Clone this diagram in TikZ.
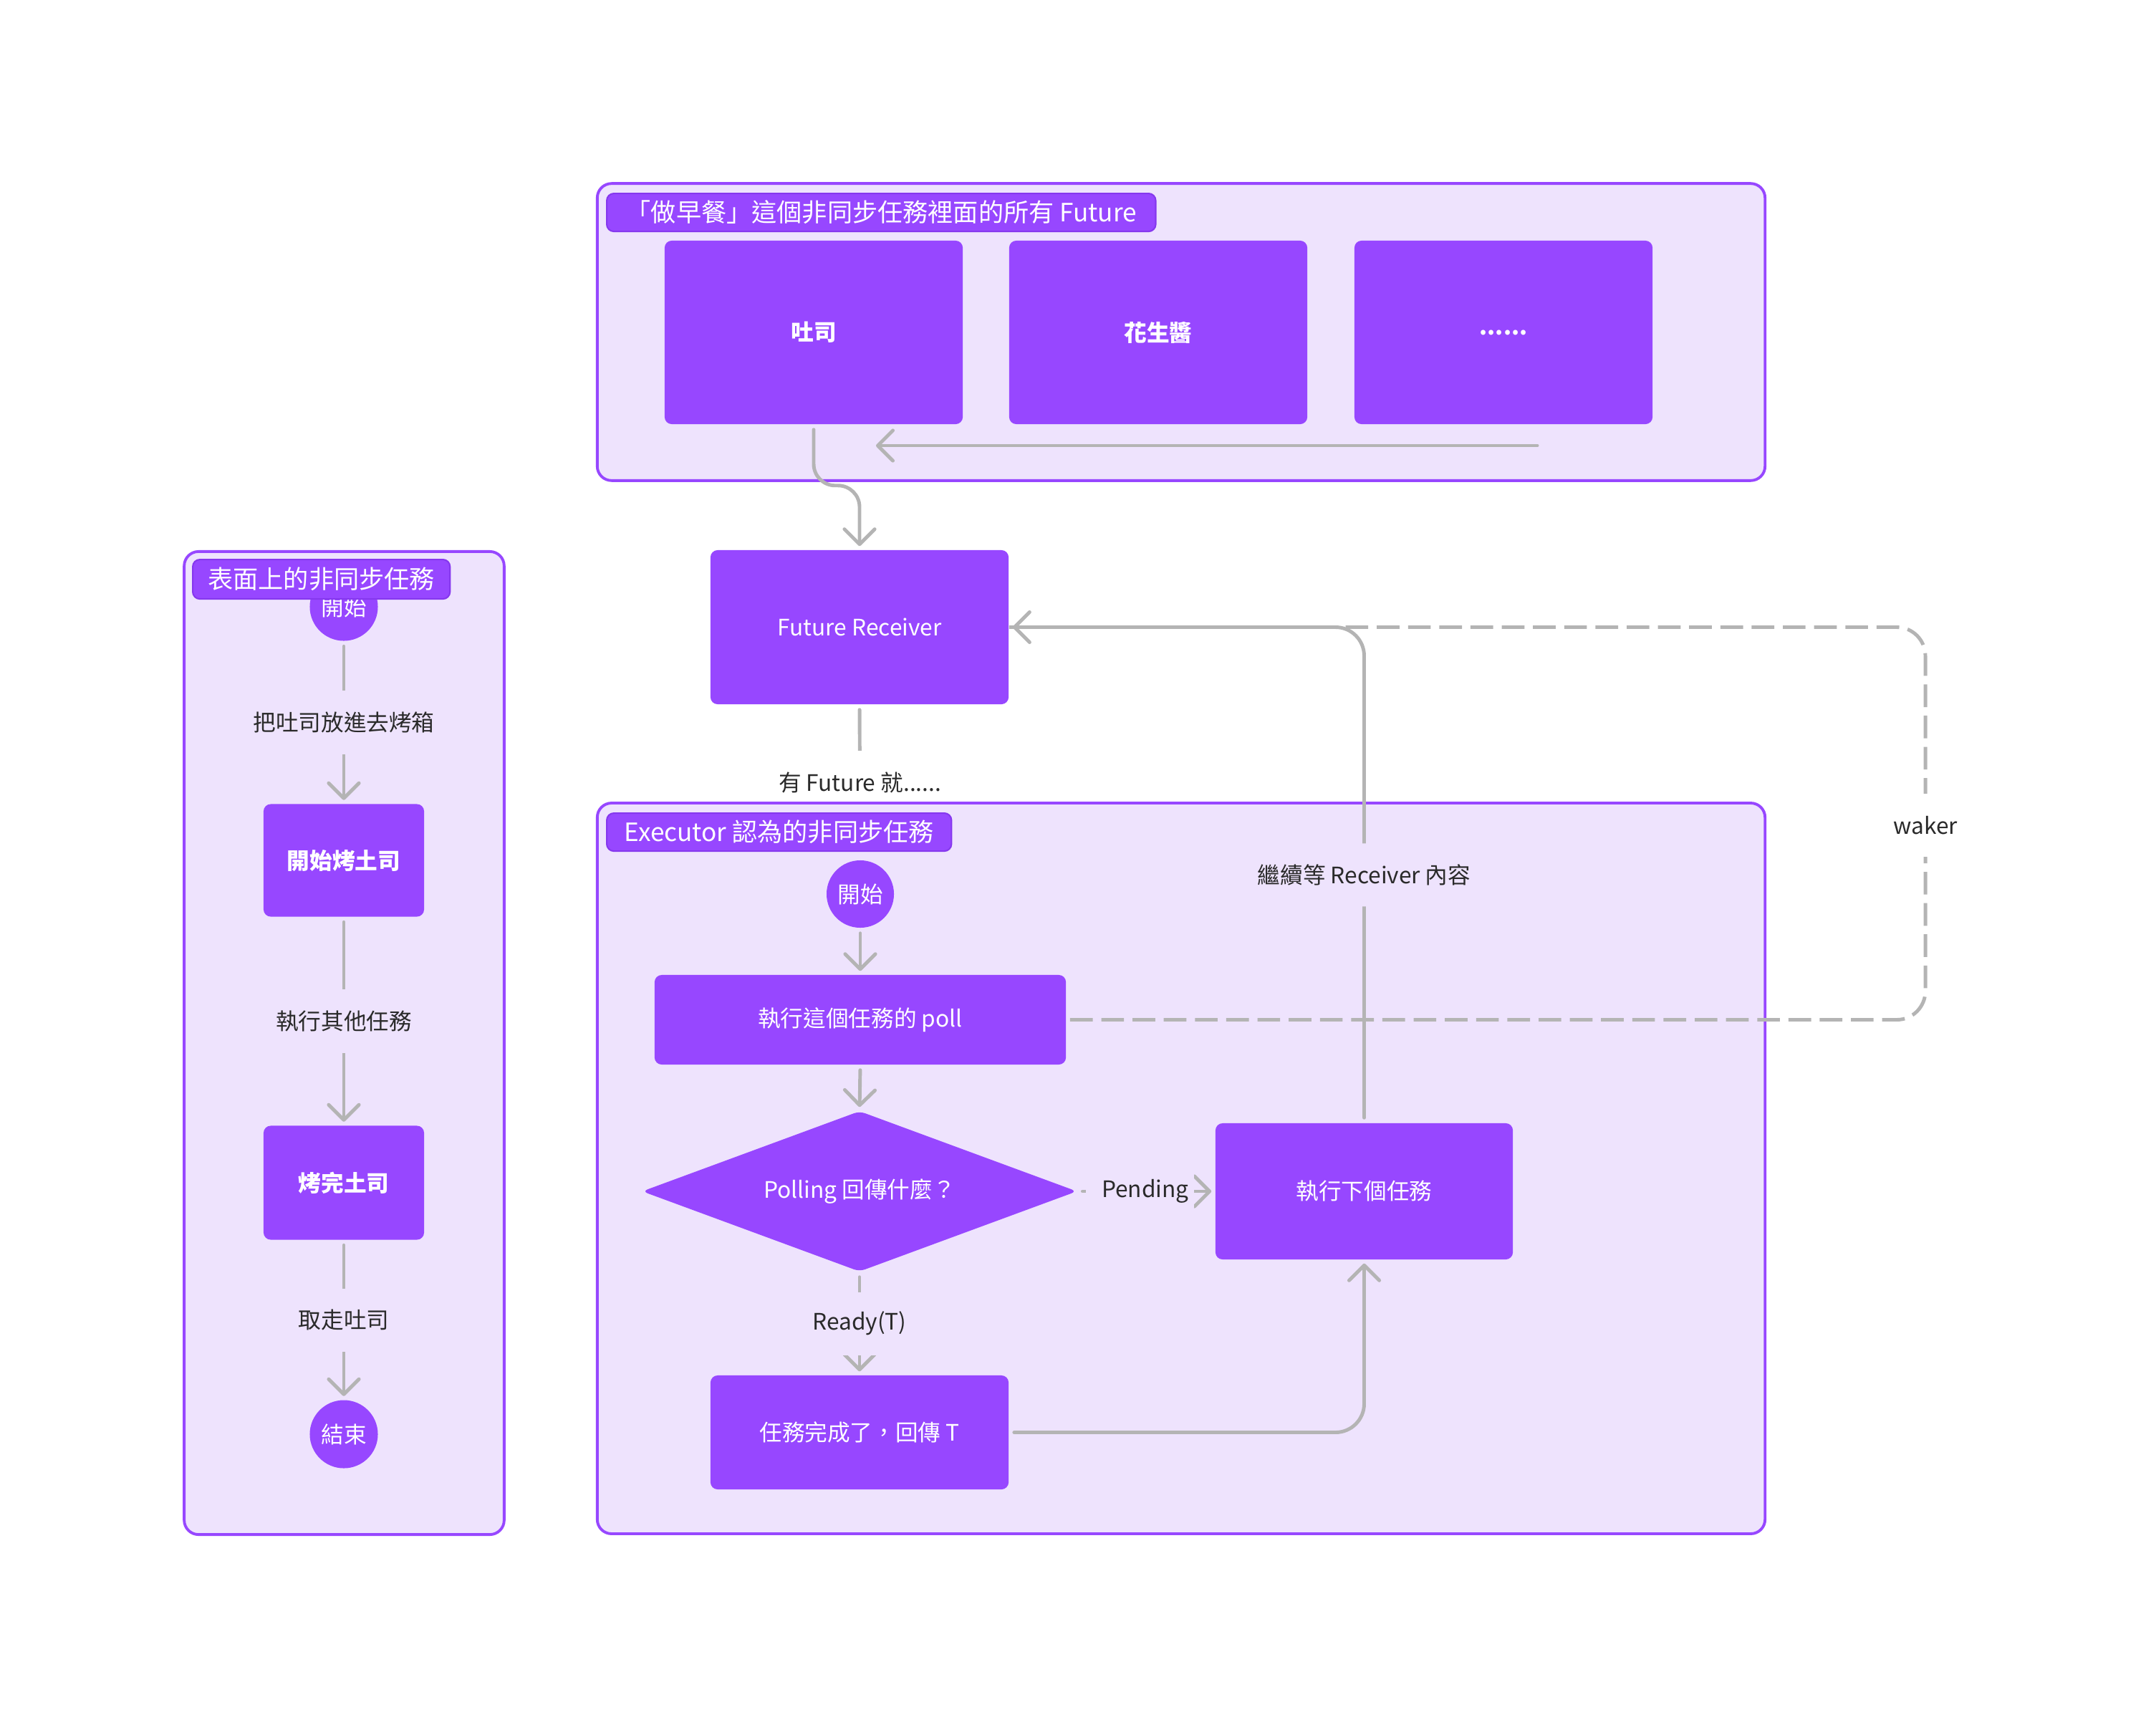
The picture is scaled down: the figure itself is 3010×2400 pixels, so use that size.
\documentclass[tikz,border=0pt]{standalone}
\usepackage{fontspec}
\setmainfont{Noto Sans CJK TC}
\usetikzlibrary{arrows.meta,shapes.geometric}

\pgfdeclarelayer{under}
\pgfdeclarelayer{fills}
\pgfdeclarelayer{edges}
\pgfdeclarelayer{wires}
\pgfdeclarelayer{tabs}
\pgfsetlayers{under,fills,edges,wires,main,tabs}

\definecolor{purp}{HTML}{9747FF}
\definecolor{tabline}{HTML}{8638EE}
\definecolor{grpfill}{HTML}{EEE3FD}
\definecolor{grpline}{HTML}{9747FF}
\definecolor{wirecol}{HTML}{B4B4B4}
\definecolor{ink}{HTML}{2A2A2A}

\tikzset{
  txt/.style={font=\fontsize{9}{11}\selectfont},
  grp/.style={fill=grpfill, rounded corners=0.2cm, inner sep=0pt},
  grpedge/.style={draw=grpline, line width=1.1pt, rounded corners=0.2cm},
  tab/.style={anchor=north west, fill=purp, draw=tabline, line width=0.6pt,
    rounded corners=0.1cm, text=white, font=\fontsize{10}{12}\selectfont,
    minimum height=0.53cm, inner sep=0pt},
  box/.style={fill=purp, rounded corners=0.1cm, text=white, txt, inner sep=0pt},
  boldbox/.style={box, font=\fontsize{9}{11}\selectfont\bfseries},
  term/.style={circle, fill=purp, text=white, txt, inner sep=0pt, minimum size=0.95cm},
  decide/.style={diamond, aspect=2.7, fill=purp, text=white, txt, inner sep=0pt,
    minimum width=6.07cm, minimum height=2.24cm, rounded corners=0.08cm},
  wire/.style={draw=wirecol, line width=1.4pt, line cap=round,
    shorten <=0.07cm, shorten >=0.05cm,
    -{Straight Barb[length=6pt, width=12pt, round]}},
  wakeline/.style={draw=wirecol, line width=1.4pt, dash pattern=on 9pt off 3.4pt,
    shorten <=0.05cm, rounded corners=0.4cm},
  lbl/.style={txt, text=ink, minimum height=0.88cm, inner xsep=0.12cm, inner ysep=0pt},
}

\begin{document}
\begin{tikzpicture}[x=0.01cm, y=-0.01cm]
\useasboundingbox (0,0) rectangle (3010,2400);

% ---------- nodes ----------
% futures of the breakfast task
\node[boldbox, minimum width=4.16cm, minimum height=2.56cm] (toast) at (1136,464) {吐司};
\node[boldbox, minimum width=4.16cm, minimum height=2.56cm] (peanut) at (1617,464) {花生醬};
\node[boldbox, minimum width=4.16cm, minimum height=2.56cm] (more) at (2099,464) {\raisebox{-0.3ex}{......}};
\coordinate (seqA) at (2146,622);
\coordinate (seqB) at (1223,622);

\node[box, minimum width=4.16cm, minimum height=2.15cm] (recv) at (1200,875.5) {Future Receiver};

% the task as it looks on the surface
\node[term] (start1) at (480,847) {開始};
\node[boldbox, minimum width=2.24cm, minimum height=1.57cm] (toastOn) at (480,1201) {開始烤土司};
\node[boldbox, minimum width=2.24cm, minimum height=1.59cm] (toastOff) at (480,1651) {烤完土司};
\node[term] (end1) at (480,2002) {結束};

% the task as the executor sees it
\node[term, minimum size=0.94cm] (start2) at (1201,1248) {開始};
\node[box, minimum width=5.74cm, minimum height=1.25cm] (poll) at (1201,1423.5) {執行這個任務的 poll};
\node[decide] (ask) at (1200,1663) {Polling 回傳什麼？};
\node[box, minimum width=4.15cm, minimum height=1.90cm] (next) at (1904.5,1663) {執行下個任務};
\node[box, minimum width=4.16cm, minimum height=1.59cm] (done) at (1200,1999.5) {任務完成了，回傳 T};
\coordinate (wk) at (2688,1152);

% ---------- background and receiver feed ----------
\begin{pgfonlayer}{under}
  \fill[white] (0,0) rectangle (3010,2400);
  \draw[wire] (recv.south) -- node[lbl, fill=white] {有 Future 就......} (start2.north);
\end{pgfonlayer}

% ---------- groups ----------
\begin{pgfonlayer}{fills}
  \node[grp, minimum width=16.28cm, minimum height=4.13cm] (gTop) at (1649,463.5) {};
  \node[grp, minimum width=16.28cm, minimum height=10.18cm] (gExec) at (1649,1631) {};
  \node[grp, minimum width=4.45cm, minimum height=13.70cm] (gLeft) at (480.5,1456) {};
\end{pgfonlayer}
\begin{pgfonlayer}{edges}
  \draw[grpedge] (gTop.north west) rectangle (gTop.south east);
  \draw[grpedge] (gExec.north west) rectangle (gExec.south east);
  \draw[grpedge] (gLeft.north west) rectangle (gLeft.south east);
\end{pgfonlayer}
\begin{pgfonlayer}{tabs}
  \node[tab, minimum width=7.66cm] (tTop) at (846,269) {「做早餐」這個非同步任務裡面的所有 Future};
  \node[tab, minimum width=4.81cm] (tExec) at (846,1134) {Executor 認為的非同步任務};
  \node[tab, minimum width=3.59cm, minimum height=0.55cm] (tLeft) at (268,780) {表面上的非同步任務};
\end{pgfonlayer}

% ---------- connectors ----------
\begin{pgfonlayer}{wires}
  % order of the futures
  \draw[wire, shorten <=0pt, shorten >=0pt] (seqA) -- (seqB);
  \draw[wire, rounded corners=0.3cm] (toast.south) -- ++(0,85) -| (recv.north);

  % surface view
  \draw[wire] (start1.south) -- node[lbl, fill=grpfill] {把吐司放進去烤箱} (toastOn.north);
  \draw[wire] (toastOn.south) -- node[lbl, fill=grpfill] {執行其他任務} (toastOff.north);
  \draw[wire] (toastOff.south) -- node[lbl, fill=grpfill] {取走吐司} (end1.north);

  % executor view
  \draw[wakeline] (poll.east) -| (wk) |- (recv.east);
  \node[lbl, fill=white] (wkLabel) at (wk) {waker};
  \draw[wire] (start2.south) -- (poll.north);
  \draw[wire] (poll.south) -- (ask.north);
  \draw[wire] (ask.east) -- node[lbl, fill=grpfill, inner xsep=0.07cm, xshift=-0.09cm] {\hspace*{0.15cm}Pending} (next.west);
  \draw[wire] (ask.south) -- node[lbl, fill=grpfill] {Ready(T)} (done.north);
  \draw[wire, rounded corners=0.4cm] (done.east) -| (next.south);
  \draw[wire, rounded corners=0.4cm] (next.north) |- node[pos=0.25, lbl, fill=grpfill] {繼續等 Receiver 內容} (recv.east);
\end{pgfonlayer}
\end{tikzpicture}
\end{document}
